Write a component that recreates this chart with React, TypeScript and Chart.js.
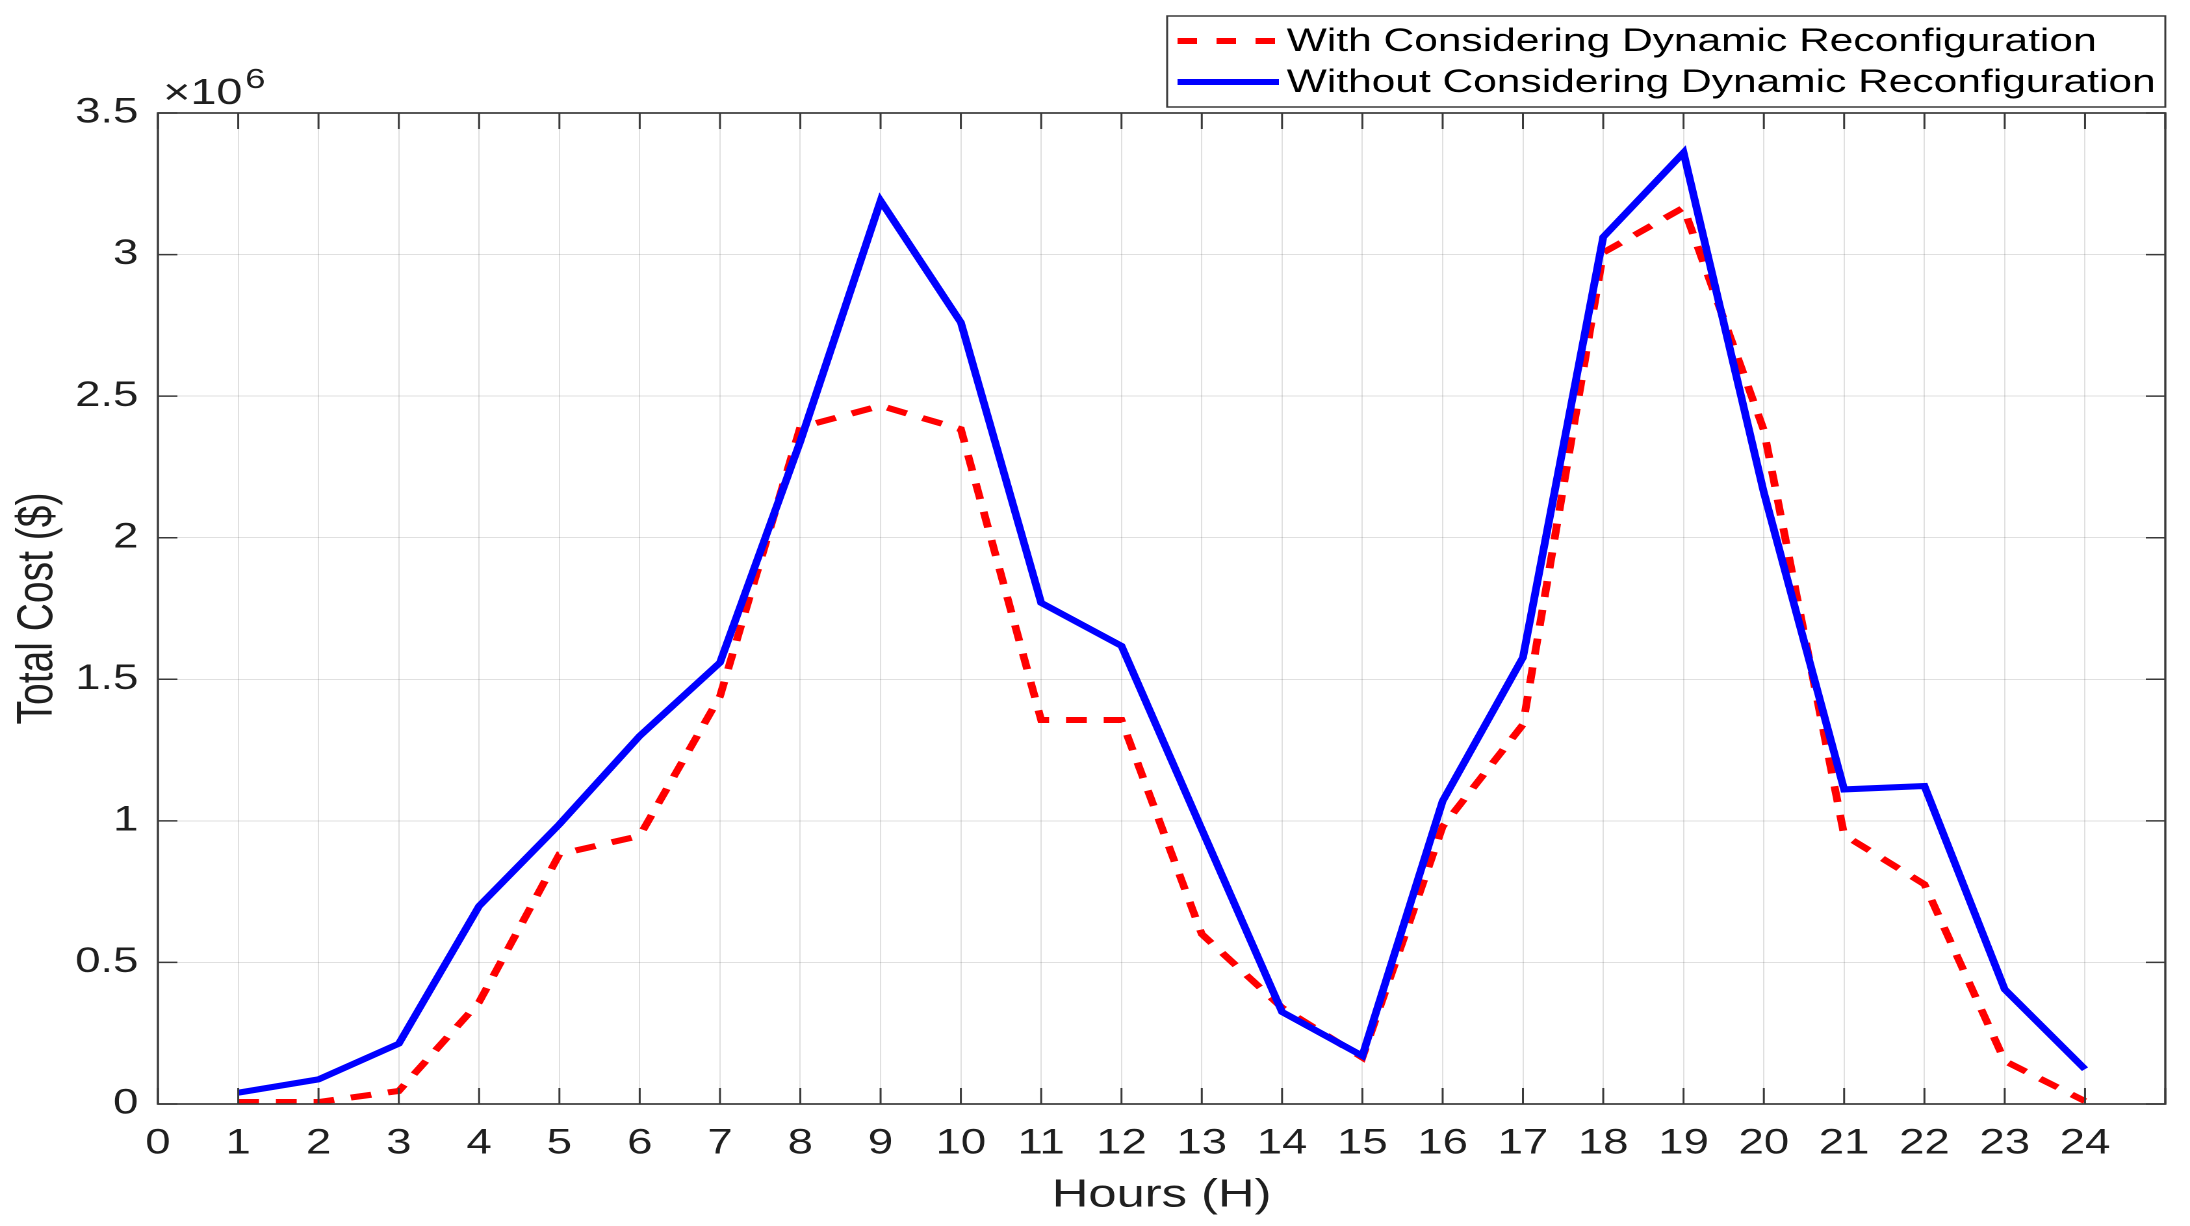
import React, { useEffect, useRef } from "react";
import { Chart, registerables } from "chart.js";

Chart.register(...registerables);

// ---- data (values in $) ----
const hours = [1, 2, 3, 4, 5, 6, 7, 8, 9, 10, 11, 12, 13, 14, 15, 16, 17, 18, 19, 20, 21, 22, 23, 24];
const costWithReconfig = [
  7000, 7000, 46000, 360000, 882000, 947000, 1440000, 2390000, 2466000, 2383000, 1356000, 1356000,
  600000, 340000, 164000, 980000, 1340000, 3007000, 3166000, 2380000, 950000, 776000, 152000, 10000,
];
const costWithoutReconfig = [
  40000, 87000, 213000, 699000, 988000, 1300000, 1559000, 2340000, 3190000, 2760000, 1770000, 1618000,
  970000, 325000, 170000, 1070000, 1577000, 3062000, 3360000, 2160000, 1111000, 1123000, 405000, 123000,
];
const xTickLabels = ["0", "1", "2", "3", "4", "5", "6", "7", "8", "9", "10", "11", "12", "13", "14", "15", "16", "17", "18", "19", "20", "21", "22", "23", "24"];
const yTickLabels = ["0", "0.5", "1", "1.5", "2", "2.5", "3", "3.5"];
const seriesLabels = ["With Considering Dynamic Reconfiguration", "Without Considering Dynamic Reconfiguration"];

const FONT = "'Liberation Sans', Arial, Helvetica, sans-serif";
const TEXT = "#1f1f1f";
const CW = 1685;
const CH = 1226;

const matlabAxes = {
  id: "matlabAxes",
  afterDatasetsDraw(chart: any) {
    const { ctx, chartArea } = chart;
    const { left, right, top, bottom } = chartArea;
    const xs = chart.scales.x;
    const ys = chart.scales.y;
    ctx.save();
    // box
    ctx.strokeStyle = "#3a3a3a";
    ctx.lineWidth = 1.7;
    ctx.strokeRect(left, top, right - left, bottom - top);
    // inward ticks
    ctx.lineWidth = 1.5;
    ctx.beginPath();
    xs.ticks.forEach((t: any) => {
      const px = xs.getPixelForValue(t.value);
      ctx.moveTo(px, bottom);
      ctx.lineTo(px, bottom - 16);
      ctx.moveTo(px, top);
      ctx.lineTo(px, top + 16);
    });
    ys.ticks.forEach((t: any) => {
      const py = ys.getPixelForValue(t.value);
      ctx.moveTo(left, py);
      ctx.lineTo(left + 15, py);
      ctx.moveTo(right, py);
      ctx.lineTo(right - 15, py);
    });
    ctx.stroke();

    // exponent label
    ctx.fillStyle = TEXT;
    ctx.textBaseline = "alphabetic";
    ctx.textAlign = "left";
    ctx.font = `36px ${FONT}`;
    const base = "\u00d710";
    ctx.fillText(base, left + 4, top - 9);
    const w = ctx.measureText(base).width;
    ctx.font = `28px ${FONT}`;
    ctx.fillText("6", left + 4 + w + 2, top - 25);

    // legend
    const boxRight = right;
    const boxLeft = right - 768;
    const boxTop = 16;
    const boxBottom = 107;
    ctx.fillStyle = "#ffffff";
    ctx.fillRect(boxLeft, boxTop, boxRight - boxLeft, boxBottom - boxTop);
    ctx.strokeStyle = "#3a3a3a";
    ctx.lineWidth = 1.5;
    ctx.strokeRect(boxLeft, boxTop, boxRight - boxLeft, boxBottom - boxTop);
    const rows = [41, 82];
    chart.data.datasets.forEach((ds: any, i: number) => {
      const yy = rows[i];
      ctx.strokeStyle = ds.borderColor;
      ctx.lineWidth = ds.borderWidth;
      ctx.setLineDash(ds.borderDash && ds.borderDash.length ? [15, 15] : []);
      ctx.beginPath();
      ctx.moveTo(boxLeft + 8, yy);
      ctx.lineTo(boxLeft + 86, yy);
      ctx.stroke();
      ctx.setLineDash([]);
      ctx.fillStyle = "#000000";
      ctx.font = `32.7px ${FONT}`;
      ctx.textBaseline = "middle";
      ctx.fillText(ds.label, boxLeft + 92, yy + 1);
    });
    ctx.restore();
  },
};

export default function App() {
  const ref = useRef<HTMLCanvasElement>(null);
  useEffect(() => {
    document.body.style.margin = "0";
    const canvas = ref.current;
    if (!canvas) return;
    const chart = new Chart(canvas, {
      type: "line",
      data: {
        datasets: [
          {
            label: seriesLabels[0],
            data: hours.map((h, i) => ({ x: h, y: costWithReconfig[i] })),
            borderColor: "#ff0000",
            backgroundColor: "#ff0000",
            borderWidth: 6,
            borderDash: [16, 13],
            pointRadius: 0,
            tension: 0,
            fill: false,
            order: 1,
          },
          {
            label: seriesLabels[1],
            data: hours.map((h, i) => ({ x: h, y: costWithoutReconfig[i] })),
            borderColor: "#0000ff",
            backgroundColor: "#0000ff",
            borderWidth: 6,
            pointRadius: 0,
            tension: 0,
            fill: false,
            order: 0,
          },
        ],
      },
      options: {
        animation: false,
        responsive: true,
        maintainAspectRatio: false,
        devicePixelRatio: 2,
        layout: { padding: { left: 0, right: 17, top: 113, bottom: 0 } },
        plugins: { legend: { display: false }, tooltip: { enabled: false } },
        scales: {
          x: {
            type: "linear",
            min: 0,
            max: 25,
            ticks: {
              stepSize: 1,
              autoSkip: false,
              maxRotation: 0,
              padding: 19,
              color: TEXT,
              font: { family: FONT, size: 35 },
              callback: (_v: any, i: number) => (i < xTickLabels.length ? xTickLabels[i] : ""),
            },
            grid: { color: "rgba(38,38,38,0.14)", lineWidth: 1, drawTicks: false },
            border: { display: false },
            title: {
              display: true,
              text: "Hours (H)",
              color: TEXT,
              font: { family: FONT, size: 39 },
              padding: { top: 0, bottom: 7 },
            },
            afterFit: (s: any) => {
              s.height = 122;
            },
          },
          y: {
            type: "linear",
            min: 0,
            max: 3500000,
            ticks: {
              stepSize: 500000,
              padding: 15,
              color: TEXT,
              font: { family: FONT, size: 35 },
              callback: (_v: any, i: number) => yTickLabels[i] ?? "",
            },
            grid: { color: "rgba(38,38,38,0.14)", lineWidth: 1, drawTicks: false },
            border: { display: false },
            title: {
              display: true,
              text: "Total Cost ($)",
              color: TEXT,
              font: { family: FONT, size: 39 },
              padding: { top: 6, bottom: 0 },
            },
            afterFit: (s: any) => {
              s.width = 121.5;
            },
          },
        },
      },
      plugins: [matlabAxes],
    } as any);
    return () => chart.destroy();
  }, []);

  return (
    <div style={{ position: "fixed", left: 0, top: 0, width: 2190, height: 1226, overflow: "hidden", background: "#ffffff" }}>
      <div
        style={{
          position: "absolute",
          left: 0,
          top: 0,
          width: CW,
          height: CH,
          transform: `scaleX(${2190 / CW})`,
          transformOrigin: "0 0",
        }}
      >
        <canvas ref={ref} />
      </div>
    </div>
  );
}
